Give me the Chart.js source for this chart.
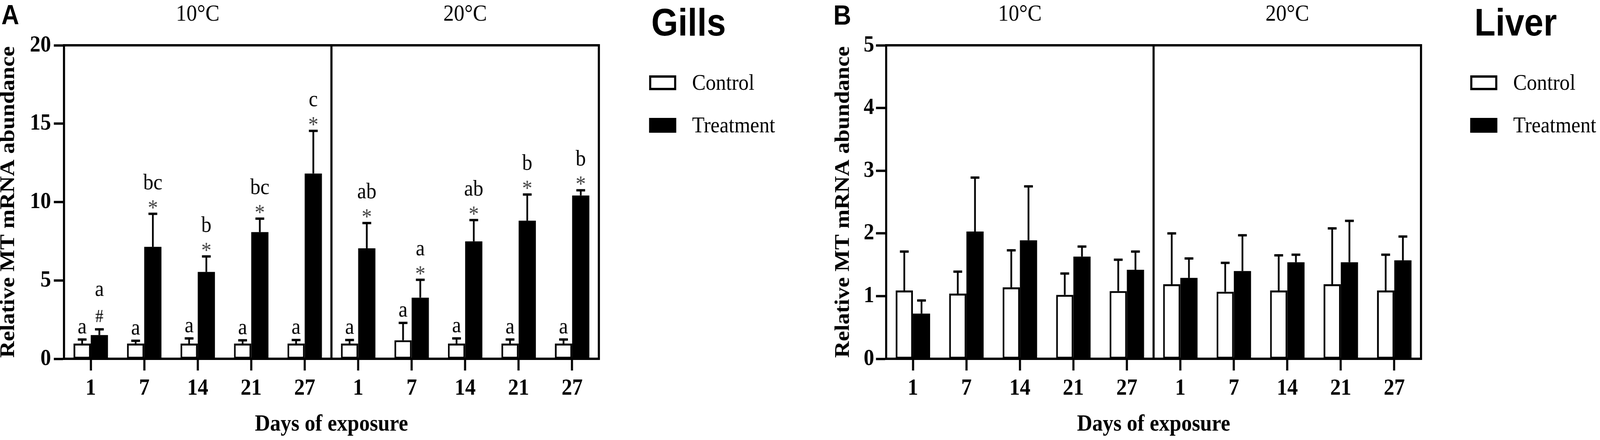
<!DOCTYPE html>
<html>
<head>
<meta charset="utf-8">
<script src="https://cdn.jsdelivr.net/npm/chart.js@4.4.1/dist/chart.umd.min.js"></script>
<style>
  html, body { margin: 0; padding: 0; background: #fff; overflow: hidden; }
  #stage { position: absolute; left: 0; top: 0; width: 4550px; height: 1127px; transform-origin: 0 0; }
  canvas { position: absolute; top: 0; }
  .txt { position: absolute; line-height: 1; white-space: nowrap; color: #000; }
  .letter { font-family: "Liberation Sans", Arial, sans-serif; font-weight: bold; font-size: 70px; }
  .organ { font-family: "Liberation Sans", Arial, sans-serif; font-weight: bold; font-size: 98px; }
  .leg { font-family: "Liberation Serif", "Times New Roman", serif; font-size: 58px; }
  .box { position: absolute; width: 77px; height: 38px; box-sizing: border-box; border: 6px solid #000; }
</style>
</head>
<body>
<div id="stage">
  <canvas id="gills" width="1800" height="1127" style="left:0px"></canvas>
  <canvas id="liver" width="1800" height="1127" style="left:2338px"></canvas>

  <div class="txt letter" style="left:4px; top:3px">A</div>
  <div class="txt organ" style="left:1852px; top:8px">Gills</div>
  <div class="box" style="left:1846px; top:193px; background:#fff"></div>
  <div class="txt leg" style="left:1968px; top:182px">Control</div>
  <div class="box" style="left:1846px; top:302px; background:#000"></div>
  <div class="txt leg" style="left:1968px; top:291px">Treatment</div>

  <div class="txt letter" style="left:2370px; top:4px">B</div>
  <div class="txt organ" style="left:4193px; top:8px">Liver</div>
  <div class="box" style="left:4181px; top:193px; background:#fff"></div>
  <div class="txt leg" style="left:4303px; top:182px">Control</div>
  <div class="box" style="left:4181px; top:302px; background:#000"></div>
  <div class="txt leg" style="left:4303px; top:291px">Treatment</div>
</div>

<script>
// groups: 5 sampling days at each of two temperatures
const days = ['1', '7', '14', '21', '27'];
const temps = ['10°C', '20°C'];

// gills (panel A)
const gillsControl = [0.97, 0.97, 0.97, 0.97, 0.97, 0.97, 1.18, 0.97, 0.97, 0.97];
const gillsControlErr = [0.26, 0.18, 0.33, 0.21, 0.23, 0.23, 1.11, 0.33, 0.26, 0.26];
const gillsTreat = [1.51, 7.14, 5.54, 8.08, 11.82, 7.05, 3.9, 7.49, 8.81, 10.42];
const gillsTreatErr = [0.37, 2.11, 0.99, 0.86, 2.72, 1.61, 1.14, 1.36, 1.67, 0.33];
const gillsControlLetters = ['a', 'a', 'a', 'a', 'a', 'a', 'a', 'a', 'a', 'a'];
const gillsTreatMarks = ['#', '*', '*', '*', '*', '*', '*', '*', '*', '*'];
const gillsTreatLetters = ['a', 'bc', 'b', 'bc', 'c', 'ab', 'a', 'ab', 'b', 'b'];

// liver (panel B)
const liverControl = [1.09, 1.04, 1.14, 1.02, 1.08, 1.19, 1.07, 1.09, 1.19, 1.09];
const liverControlErr = [0.62, 0.35, 0.59, 0.34, 0.50, 0.81, 0.46, 0.56, 0.89, 0.57];
const liverTreat = [0.72, 2.03, 1.89, 1.63, 1.42, 1.29, 1.40, 1.54, 1.54, 1.57];
const liverTreatErr = [0.21, 0.86, 0.86, 0.16, 0.29, 0.31, 0.57, 0.12, 0.66, 0.38];

const serif = '"Liberation Serif", "Times New Roman", serif';
const labels = temps.flatMap(() => days);

// the figure is laid out at 4550x1127, fit it to whatever window we get
const stage = document.getElementById('stage');
stage.style.transform = 'scale(' + (window.innerWidth / 4550) + ',' + (window.innerHeight / 1127) + ')';

// error bars, significance marks, frame, divider and temperature headers
const panelDecor = {
  id: 'panelDecor',
  afterDatasetsDraw(chart, args, opts) {
    const ctx = chart.ctx;
    const y = chart.scales.y;
    ctx.save();
    ctx.strokeStyle = '#000';
    ctx.fillStyle = '#000';
    ctx.textAlign = 'center';
    ctx.textBaseline = 'alphabetic';
    opts.errors.forEach((errs, di) => {
      const vals = chart.data.datasets[di].data;
      chart.getDatasetMeta(di).data.forEach((bar, i) => {
        const yTop = y.getPixelForValue(vals[i] + errs[i]);
        ctx.lineWidth = 5;
        ctx.beginPath();
        ctx.moveTo(bar.x, bar.y);
        ctx.lineTo(bar.x, yTop);
        ctx.stroke();
        ctx.lineWidth = 6;
        ctx.beginPath();
        ctx.moveTo(bar.x - 12.5, yTop);
        ctx.lineTo(bar.x + 12.5, yTop);
        ctx.stroke();

        if (di === 0 && opts.controlLetters) {
          ctx.fillStyle = '#000';
          ctx.font = '58px ' + serif;
          ctx.fillText(opts.controlLetters[i], bar.x, yTop - 16);
        }
        if (di === 1 && opts.treatMarks) {
          const mark = opts.treatMarks[i];
          if (mark === '#') {
            ctx.fillStyle = '#000';
            ctx.font = '46px ' + serif;
            ctx.fillText(mark, bar.x, yTop - 19);
            ctx.font = '58px ' + serif;
            ctx.fillText(opts.treatLetters[i], bar.x, yTop - 86);
          } else {
            ctx.fillStyle = '#444';
            ctx.font = '58px ' + serif;
            ctx.fillText(mark, bar.x, yTop + 3);
            ctx.fillStyle = '#000';
            ctx.fillText(opts.treatLetters[i], bar.x, yTop - 63);
          }
        }
      });
    });
    ctx.restore();
  },
  afterDraw(chart) {
    const ctx = chart.ctx;
    const a = chart.chartArea;
    const x = chart.scales.x;
    const split = (x.getPixelForValue(days.length - 1) + x.getPixelForValue(days.length)) / 2;
    ctx.save();
    ctx.strokeStyle = '#000';
    ctx.lineWidth = 6;
    ctx.beginPath();
    ctx.moveTo(a.left - 3, a.top);
    ctx.lineTo(a.right, a.top);
    ctx.lineTo(a.right, a.bottom + 3);
    ctx.stroke();
    ctx.beginPath();
    ctx.moveTo(split, a.top);
    ctx.lineTo(split, a.bottom);
    ctx.stroke();

    ctx.fillStyle = '#000';
    ctx.font = '60px ' + serif;
    ctx.textAlign = 'center';
    ctx.textBaseline = 'alphabetic';
    ctx.fillText(temps[0], (a.left + split) / 2, 53);
    ctx.fillText(temps[1], (split + a.right) / 2, 53);
    ctx.restore();
  }
};

function buildPanel(id, control, treat, errs, yMax, step, tickPad, titlePad, marks) {
  return new Chart(document.getElementById(id), {
    type: 'bar',
    data: {
      labels: labels,
      datasets: [{
        label: 'Control',
        data: control,
        backgroundColor: '#fff',
        borderColor: '#000',
        borderWidth: 5,
        borderSkipped: false,
        categoryPercentage: 0.644,
        barPercentage: 1
      }, {
        label: 'Treatment',
        data: treat,
        backgroundColor: '#000',
        borderColor: '#000',
        borderWidth: 0,
        categoryPercentage: 0.644,
        barPercentage: 1
      }]
    },
    options: {
      responsive: false,
      animation: false,
      devicePixelRatio: 1,
      layout: { padding: { left: 0, top: 116, right: 97, bottom: 0 } },
      plugins: {
        legend: { display: false },
        tooltip: { enabled: false },
        panelDecor: Object.assign({ errors: errs }, marks || {})
      },
      scales: {
        x: {
          ticks: {
            color: '#000', padding: 10, maxRotation: 0, autoSkip: false,
            font: { family: serif, size: 60, weight: 'bold' }
          },
          grid: { offset: false, drawOnChartArea: false, tickLength: 30, tickWidth: 6, tickColor: '#000' },
          border: { display: true, color: '#000', width: 6 },
          title: {
            display: true, text: 'Days of exposure', color: '#000',
            font: { family: serif, size: 60, weight: 'bold', lineHeight: 1 },
            padding: { top: 0, bottom: 10 }
          },
          afterFit(scale) { scale.height = 208; }
        },
        y: {
          min: 0,
          max: yMax,
          ticks: {
            stepSize: step, color: '#000', padding: tickPad,
            font: { family: serif, size: 60, weight: 'bold' }
          },
          grid: { drawOnChartArea: false, tickLength: 29, tickWidth: 6, tickColor: '#000' },
          border: { display: true, color: '#000', width: 6 },
          title: {
            display: true, text: 'Relative MT mRNA abundance', color: '#000',
            font: { family: serif, size: 59, weight: 'bold', lineHeight: 0.8 },
            padding: { top: titlePad, bottom: 0 }
          },
          afterFit(scale) { scale.width = 182; }
        }
      }
    },
    plugins: [panelDecor]
  });
}

buildPanel('gills', gillsControl, gillsTreat, [gillsControlErr, gillsTreatErr], 20, 5, 8, 1, {
  controlLetters: gillsControlLetters,
  treatMarks: gillsTreatMarks,
  treatLetters: gillsTreatLetters
});
buildPanel('liver', liverControl, liverTreat, [liverControlErr, liverTreatErr], 5, 1, 5, 37, null);
</script>
</body>
</html>
